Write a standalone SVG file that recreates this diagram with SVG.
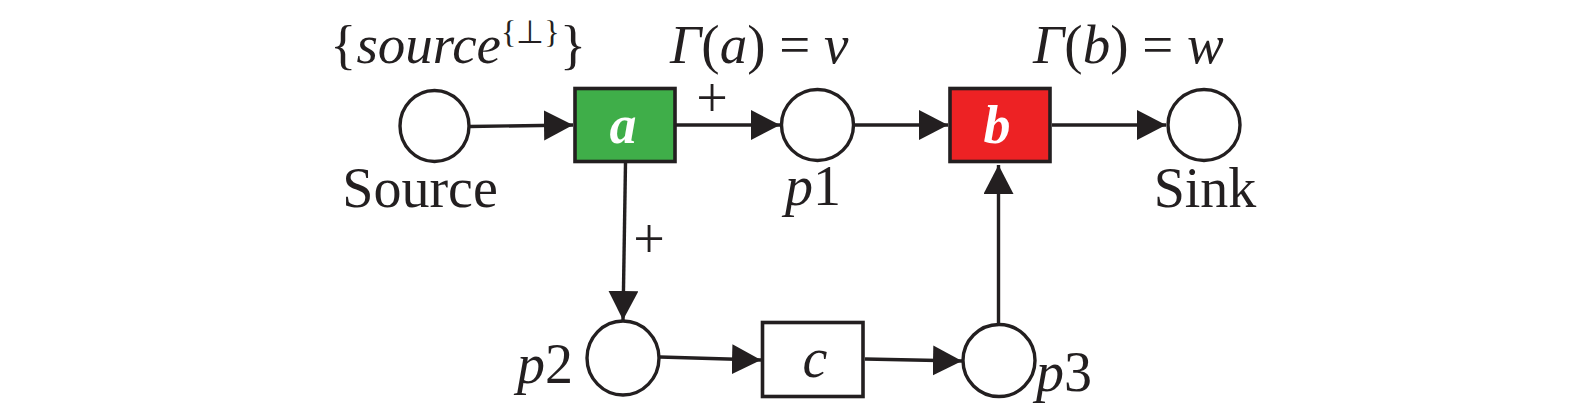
<svg xmlns="http://www.w3.org/2000/svg" width="1575" height="411" viewBox="0 0 1575 411">
<defs>
<style>
.place{fill:#fff;stroke:#231f20;stroke-width:3.4}
.trans{stroke:#231f20;stroke-width:3.6}
.edge{fill:none;stroke:#231f20;stroke-width:3.4}
.lbl{font-family:"Liberation Serif","Times New Roman",serif;font-size:56px;fill:#231f20}
.math{font-family:"Liberation Serif","Times New Roman",serif;font-size:55px;fill:#231f20}
.plus{font-family:"Liberation Serif","Times New Roman",serif;font-size:56px;fill:#231f20}
.it{font-style:italic}
.tl{font-family:"Liberation Serif","Times New Roman",serif;font-size:54px;font-style:italic;font-weight:bold;fill:#fff}
</style>
<marker id="arr" markerUnits="userSpaceOnUse" markerWidth="32" markerHeight="32" refX="29" refY="15" orient="auto" viewBox="0 0 32 32">
<path d="M0,0 L29,15 L0,30 z" fill="#231f20"/>
</marker>
</defs>
<rect width="1575" height="411" fill="#fff"/>
<g id="connectors">
<line class="edge" x1="470" y1="126.5" x2="573" y2="125" marker-end="url(#arr)"/>
<line class="edge" x1="675" y1="125" x2="780" y2="125" marker-end="url(#arr)"/>
<line class="edge" x1="855" y1="125" x2="948" y2="125" marker-end="url(#arr)"/>
<line class="edge" x1="1052" y1="125" x2="1166" y2="125" marker-end="url(#arr)"/>
<line class="edge" x1="625.5" y1="163" x2="623" y2="320" marker-end="url(#arr)"/>
<line class="edge" x1="660" y1="357" x2="761" y2="360" marker-end="url(#arr)"/>
<line class="edge" x1="865" y1="359" x2="962" y2="361" marker-end="url(#arr)"/>
<line class="edge" x1="998.5" y1="323" x2="998.5" y2="165" marker-end="url(#arr)"/>
<text class="plus" x="712" y="117" text-anchor="middle">+</text>
<text class="plus" x="649" y="258" text-anchor="middle">+</text>
</g>
<g id="source">
<ellipse class="place" cx="434.5" cy="126" rx="34.5" ry="35.5"/>
<text class="lbl" x="420" y="207" text-anchor="middle">Source</text>
<text class="math" x="330" y="63" font-size="52">{<tspan class="it">source</tspan><tspan font-size="32" dy="-20">{⊥}</tspan><tspan dy="20">}</tspan></text>
</g>
<g id="a">
<rect class="trans" x="575" y="88.5" width="100" height="73" fill="#3fae49"/>
<text class="tl" x="623" y="143" text-anchor="middle">a</text>
<text class="math" x="670" y="63"><tspan class="it">Γ</tspan>(<tspan class="it">a</tspan>) = <tspan class="it">v</tspan></text>
</g>
<g id="p1">
<ellipse class="place" cx="817.5" cy="125" rx="36" ry="35.5"/>
<text class="lbl" x="813" y="205" text-anchor="middle"><tspan class="it">p</tspan>1</text>
</g>
<g id="b">
<rect class="trans" x="950" y="88.5" width="100" height="73" fill="#ed2224"/>
<text class="tl" x="997" y="143" text-anchor="middle">b</text>
<text class="math" x="1033" y="63"><tspan class="it">Γ</tspan>(<tspan class="it">b</tspan>) = <tspan class="it">w</tspan></text>
</g>
<g id="sink">
<ellipse class="place" cx="1204" cy="125" rx="36" ry="35.5"/>
<text class="lbl" x="1205" y="207" text-anchor="middle">Sink</text>
</g>
<g id="p2">
<ellipse class="place" cx="623" cy="358" rx="36" ry="37"/>
<text class="lbl" x="573" y="383" text-anchor="end"><tspan class="it">p</tspan>2</text>
</g>
<g id="c">
<rect class="trans" x="762.5" y="322.5" width="100.5" height="74" fill="#fff"/>
<text class="lbl it" x="815" y="377" text-anchor="middle">c</text>
</g>
<g id="p3">
<ellipse class="place" cx="999" cy="360.5" rx="36" ry="36"/>
<text class="lbl" x="1036" y="391"><tspan class="it">p</tspan>3</text>
</g>
</svg>
